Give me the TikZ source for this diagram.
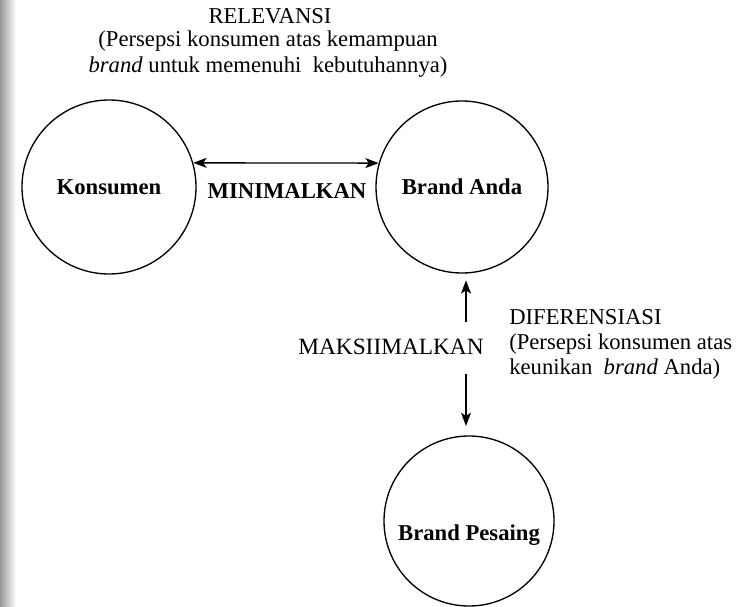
\documentclass[tikz,border=0pt]{standalone}
\usepackage{fontspec}
\setmainfont{Liberation Serif}
\usetikzlibrary{arrows.meta}
\begin{document}
\begin{tikzpicture}[x=0.75pt,y=-0.75pt,
  >={Stealth[length=10pt,width=7.5pt,inset=2.5pt]},
  bubble/.style={circle, draw, line width=1pt, inner sep=0pt, minimum size=#1},
  partytext/.style={font=\fontsize{17}{20}\selectfont\bfseries},
  note/.style={font=\fontsize{17}{19}\selectfont, align=center, inner sep=0pt},
  link/.style={line width=1pt}]
  \useasboundingbox (0,0) rectangle (741,606);
  % page gutter shadow
  \shade[left color=black!40, right color=white] (0,0) rectangle (16,606);

  % the three parties
  \node[bubble=130.5pt, partytext] (kons) at (109,187) {Konsumen};
  \node[bubble=129pt, partytext] (anda) at (462,187) {Brand Anda};
  \node[bubble=127.5pt] (pes) at (469,521) {};
  \node[partytext, inner sep=0pt] (pestext) at (469,535) {Brand Pesaing};

  % relevance: consumer <-> own brand
  \node[note] (rel) at (270,16) {RELEVANSI};
  \node[note] (relnote) at (268,54) {(Persepsi konsumen atas kemampuan\\
    \textit{brand} untuk memenuhi\ \ kebutuhannya)};
  \draw[link, <->] (kons.16) -- (anda.164);
  \node[partytext, inner sep=0pt] (mini) at (287,191) {MINIMALKAN};

  % differentiation: own brand <-> competitor
  \coordinate (u0) at (466,322);
  \coordinate (d0) at (466,374);
  \draw[link, ->, shorten >=5pt] (u0) -- (u0 |- anda.south);
  \draw[link, ->, shorten >=7pt] (d0) -- (d0 |- pes.north);
  \node[note, font=\fontsize{17.5}{19}\selectfont] (maks) at (391,347) {MAKSIIMALKAN};
  \node[note, anchor=north west, align=left, font=\fontsize{17}{18.75}\selectfont]
    (dif) at (509,309)
    {DIFERENSIASI\\(Persepsi konsumen atas\\keunikan\ \ \textit{brand} Anda)};
\end{tikzpicture}
\end{document}
